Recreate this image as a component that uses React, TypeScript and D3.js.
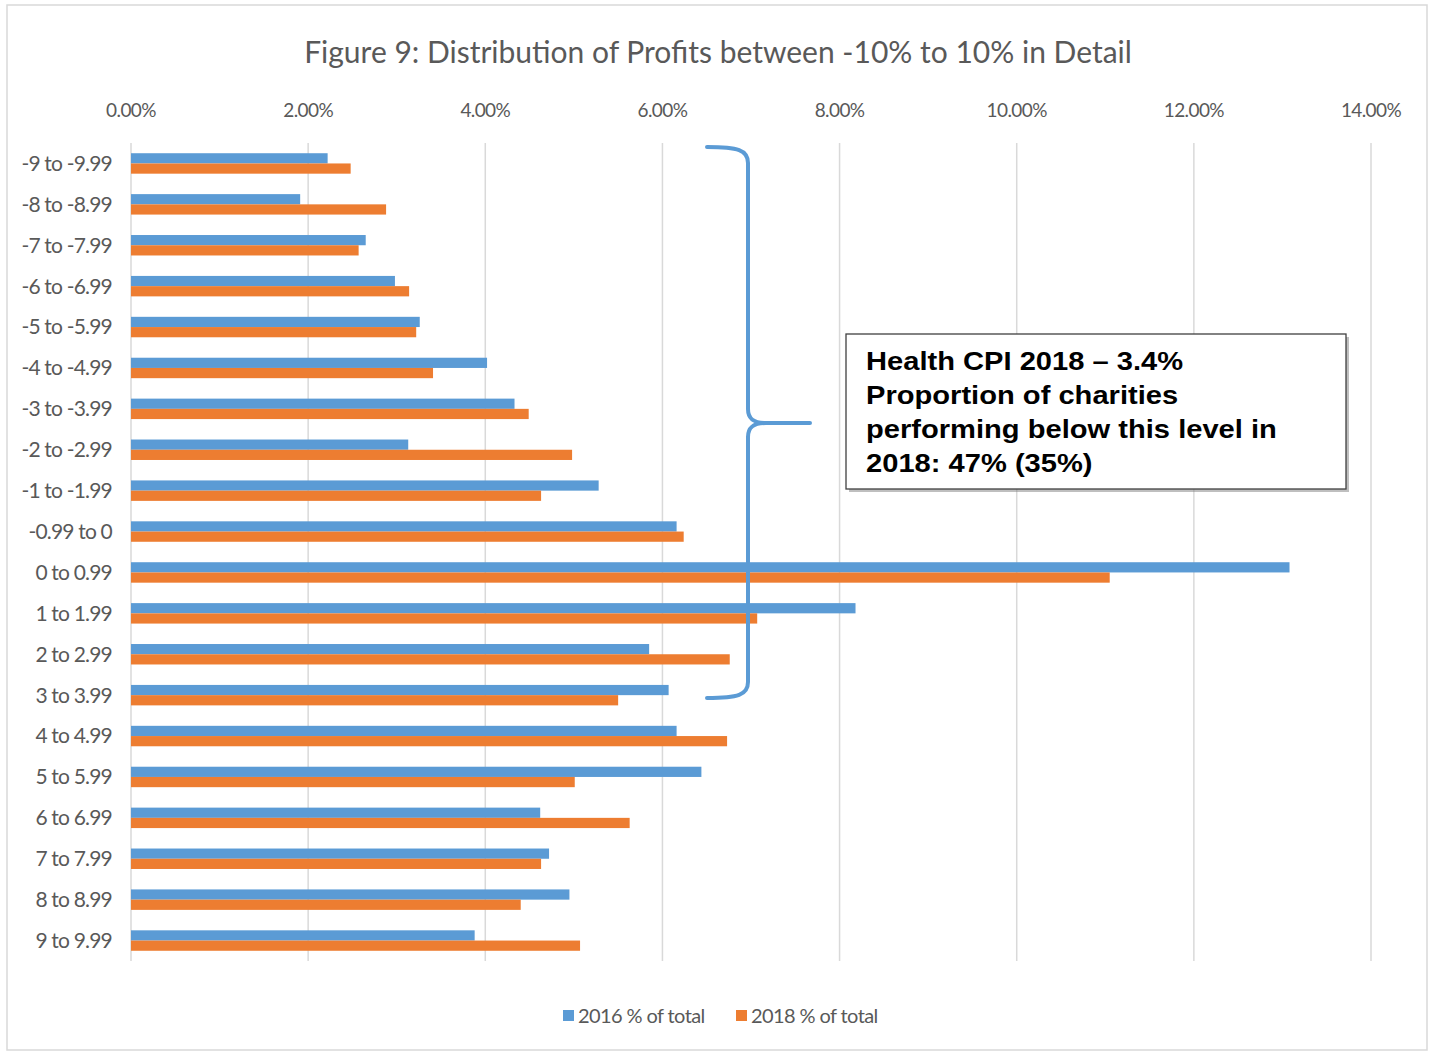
import React from 'react';
import * as d3 from 'd3';

const categories = [
  '-9 to -9.99', '-8 to -8.99', '-7 to -7.99', '-6 to -6.99', '-5 to -5.99',
  '-4 to -4.99', '-3 to -3.99', '-2 to -2.99', '-1 to -1.99', '-0.99 to 0',
  '0 to 0.99', '1 to 1.99', '2 to 2.99', '3 to 3.99', '4 to 4.99',
  '5 to 5.99', '6 to 6.99', '7 to 7.99', '8 to 8.99', '9 to 9.99',
];

// % of total
const share2016 = [
  2.22, 1.91, 2.65, 2.98, 3.26, 4.02, 4.33, 3.13, 5.28, 6.16,
  13.08, 8.18, 5.85, 6.07, 6.16, 6.44, 4.62, 4.72, 4.95, 3.88,
];
const share2018 = [
  2.48, 2.88, 2.57, 3.14, 3.22, 3.41, 4.49, 4.98, 4.63, 6.24,
  11.05, 7.07, 6.76, 5.50, 6.73, 5.01, 5.63, 4.63, 4.40, 5.07,
];

const seriesNames = ['2016 % of total', '2018 % of total'];
const xTicks = [0, 2, 4, 6, 8, 10, 12, 14];

const title = 'Figure 9: Distribution of Profits between -10% to 10% in Detail';
const noteLines = [
  'Health CPI 2018 \u2013 3.4%',
  'Proportion of charities',
  'performing below this level in',
  '2018: 47% (35%)',
];

const W = 1429;
const H = 1052;
const BLUE = '#5b9bd5';
const ORANGE = '#ed7d31';
const GRID = '#d9d9d9';
const TEXT = '#595959';
const FONT = 'Lato, "Open Sans", sans-serif';

const App = () => {
  const plot = { left: 131, right: 1371, top: 143, bottom: 961 };

  const x = d3.scaleLinear().domain([0, 14]).range([plot.left, plot.right]);
  const y = d3.scaleBand<string>().domain(categories).range([plot.top, plot.bottom]).paddingInner(0.5).paddingOuter(0.25);
  const sub = d3.scaleBand<number>().domain([0, 1]).range([0, y.bandwidth()]);

  const series = [share2016, share2018];
  const colors = [BLUE, ORANGE];

  // curly brace spanning -9..-9.99 down to 3..3.99
  const braceTop = 147;
  const braceBottom = 698;
  const braceX = 748;
  const braceLeft = 707;
  const tipY = 423;
  const tipX = 810;
  const brace = d3.path();
  brace.moveTo(braceLeft, braceTop);
  brace.bezierCurveTo(738, braceTop, braceX, braceTop + 3, braceX, braceTop + 16);
  brace.lineTo(braceX, tipY - 14);
  brace.bezierCurveTo(braceX, tipY - 4, braceX + 6, tipY, braceX + 18, tipY);
  brace.lineTo(tipX, tipY);
  brace.moveTo(braceX + 18, tipY);
  brace.bezierCurveTo(braceX + 6, tipY, braceX, tipY + 4, braceX, tipY + 14);
  brace.lineTo(braceX, braceBottom - 16);
  brace.bezierCurveTo(braceX, braceBottom - 3, 738, braceBottom, braceLeft, braceBottom);

  return (
    <svg width={W} height={H} style={{ position: 'absolute', left: 0, top: 0, background: '#fff' }}>
      <rect x={7} y={5} width={1420} height={1045} fill="#fff" stroke={GRID} strokeWidth={1.5} />

      <text x={718} y={63} textAnchor="middle" fontFamily={FONT} fontSize={30} fill={TEXT}>
        {title}
      </text>

      {/* vertical gridlines */}
      {xTicks.map(t => (
        <g key={t}>
          <line x1={x(t)} x2={x(t)} y1={plot.top} y2={plot.bottom} stroke={GRID} strokeWidth={1.5} />
          <text x={x(t)} y={117} textAnchor="middle" fontFamily={FONT} fontSize={19} fill={TEXT} letterSpacing={-0.6}>
            {t.toFixed(2) + '%'}
          </text>
        </g>
      ))}

      {/* bars */}
      {categories.map((c, i) => (
        <g key={c} transform={`translate(0,${y(c)})`}>
          {series.map((s, k) => (
            <rect
              key={k}
              x={x(0)}
              y={sub(k)}
              width={x(s[i]) - x(0)}
              height={sub.bandwidth()}
              fill={colors[k]}
            />
          ))}
          <text
            x={112}
            y={y.bandwidth() / 2}
            dy="0.35em"
            textAnchor="end"
            fontFamily={FONT}
            fontSize={21}
            fill={TEXT}
            letterSpacing={-0.8}
          >
            {c}
          </text>
        </g>
      ))}

      <path d={brace.toString()} fill="none" stroke={BLUE} strokeWidth={4} strokeLinecap="round" />

      {/* annotation box */}
      <rect x={849} y={337} width={500} height={155} fill="#7f7f7f" opacity={0.5} />
      <rect x={846} y={334} width={500} height={155} fill="#fff" stroke="#404040" strokeWidth={1.3} />
      <g transform="translate(866,0) scale(1.12,1)">
        {noteLines.map((l, i) => (
          <text key={i} x={0} y={370 + i * 34} fontFamily='"Liberation Sans", Arial, sans-serif' fontWeight="bold" fontSize={26} fill="#000">
            {l}
          </text>
        ))}
      </g>

      {/* legend */}
      {seriesNames.map((n, k) => (
        <g key={n} transform={`translate(${563 + k * 173},1010)`}>
          <rect x={0} y={0} width={11} height={11} fill={colors[k]} />
          <text x={15} y={6} dy="0.35em" fontFamily={FONT} fontSize={20} fill={TEXT} letterSpacing={-0.6}>
            {n}
          </text>
        </g>
      ))}
    </svg>
  );
};

export default App;
